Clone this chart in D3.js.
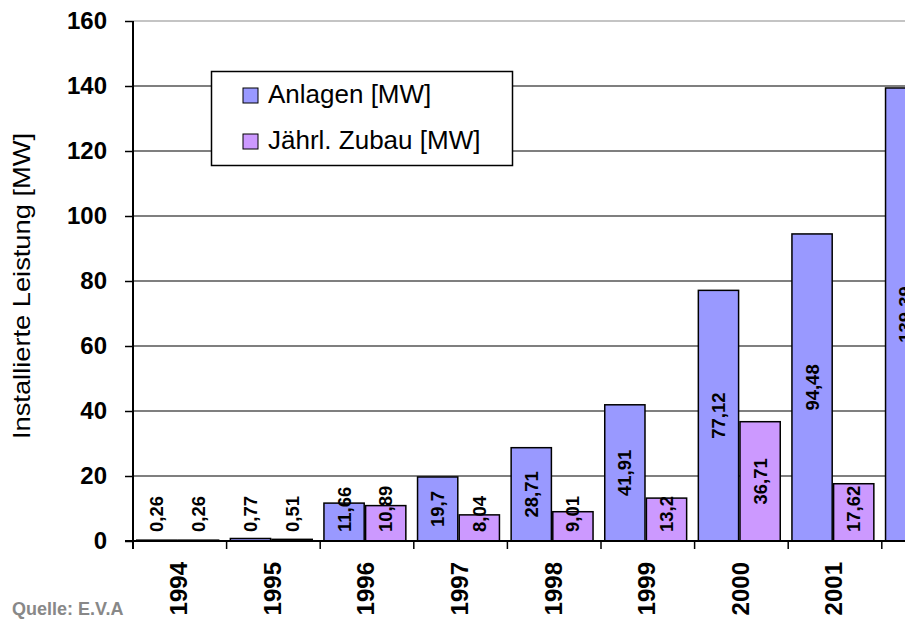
<!DOCTYPE html>
<html>
<head>
<meta charset="utf-8">
<script src="https://cdn.jsdelivr.net/npm/d3@7"></script>
<style>
  html, body { margin: 0; padding: 0; background: #fff; }
  svg { display: block; font-family: "Liberation Sans", Arial, sans-serif; }
</style>
</head>
<body>
<svg id="chart" width="905" height="625"></svg>
<script>
// ---- data ----
const years = ["1994", "1995", "1996", "1997", "1998", "1999", "2000", "2001", "2002"];
const anlagen = [0.26, 0.77, 11.66, 19.7, 28.71, 41.91, 77.12, 94.48, 139.39];
const zubau = [0.26, 0.51, 10.89, 8.04, 9.01, 13.2, 36.71, 17.62, null];
const yTicks = [0, 20, 40, 60, 80, 100, 120, 140, 160];
const seriesNames = ["Anlagen [MW]", "Jährl. Zubau [MW]"];
const seriesColors = ["#9999FF", "#CC99FF"];

// ---- layout ----
const svg = d3.select("#chart");
const x0 = 133, yBottom = 541, yTop = 21;
const bandW = 93.6;
const x = d3.scaleBand().domain(years).range([x0, x0 + bandW * years.length]).padding(0);
const y = d3.scaleLinear().domain([0, 160]).range([yBottom, yTop]);
const font = '"Liberation Sans", Arial, sans-serif';

// gridlines
svg.append("g").selectAll("line").data(yTicks.filter(d => d > 0)).join("line")
  .attr("x1", x0).attr("x2", 905)
  .attr("y1", d => y(d)).attr("y2", d => y(d))
  .attr("stroke", d => d === 160 ? "#8a8a8a" : "#000")
  .attr("stroke-width", 1.2);

// y axis
const yAxis = d3.axisLeft(y).tickValues(yTicks).tickSize(8).tickPadding(18).tickFormat(d3.format("d"));
const gy = svg.append("g").attr("transform", `translate(${x0},0)`).call(yAxis);
gy.select(".domain").remove();
gy.selectAll(".tick line").attr("stroke", "#000").attr("stroke-width", 1.5);
gy.selectAll(".tick text").attr("font-family", font).attr("font-size", 24).attr("font-weight", "bold").attr("fill", "#000");

// bars
const bw = x.bandwidth();
const barW = bw * 0.43;
const offsets = [bw * 0.04, bw * 0.485];
const series = [anlagen, zubau];
const labelLayer = [];
series.forEach((vals, si) => {
  const data = years.map((yr, i) => ({ yr, v: vals[i] })).filter(d => d.v != null);
  svg.append("g").selectAll("rect").data(data).join("rect")
    .attr("x", d => x(d.yr) + offsets[si])
    .attr("y", d => y(d.v))
    .attr("width", barW)
    .attr("height", d => yBottom - y(d.v))
    .attr("fill", seriesColors[si])
    .attr("stroke", "#000")
    .attr("stroke-width", 1.5);
  labelLayer.push({ si, data });
});

// axes lines
svg.append("line").attr("x1", x0).attr("x2", x0).attr("y1", yTop).attr("y2", yBottom + 8)
  .attr("stroke", "#000").attr("stroke-width", 2);
svg.append("line").attr("x1", x0 - 8).attr("x2", 905).attr("y1", yBottom).attr("y2", yBottom)
  .attr("stroke", "#000").attr("stroke-width", 2);

// x ticks at band boundaries
svg.append("g").selectAll("line").data(years).join("line")
  .attr("x1", d => x(d)).attr("x2", d => x(d))
  .attr("y1", yBottom).attr("y2", yBottom + 8)
  .attr("stroke", "#000").attr("stroke-width", 1.5);

// x labels (only those whose band centre lies inside the visible picture)
svg.append("g").selectAll("text").data(years.filter(d => x(d) + bw / 2 < 905)).join("text")
  .attr("transform", d => `translate(${x(d) + bw / 2 - 1},562) rotate(-90)`)
  .attr("text-anchor", "end").attr("dy", "0.35em")
  .attr("font-family", font).attr("font-size", 24).attr("font-weight", "bold").attr("fill", "#000")
  .text(d => d);

// bar value labels
labelLayer.forEach(({ si, data }) => {
  const g = svg.append("g");
  data.forEach(d => {
    const cx = x(d.yr) + offsets[si] + barW / 2;
    const t = g.append("text")
      .attr("text-anchor", "middle").attr("dy", "0.35em")
      .attr("font-family", font).attr("font-size", 18.5).attr("font-weight", "bold").attr("fill", "#000")
      .text(String(d.v).replace(".", ","));
    const len = t.node().getComputedTextLength();
    const barCenter = (y(d.v) + yBottom) / 2;
    const cy = Math.min(barCenter, 532 - len / 2);
    t.attr("transform", `translate(${cx},${cy}) rotate(-90)`);
  });
});

// y title
svg.append("text")
  .attr("transform", "translate(30,286) rotate(-90)")
  .attr("text-anchor", "middle")
  .attr("font-family", font).attr("font-size", 24).attr("fill", "#000")
  .attr("textLength", 306).attr("lengthAdjust", "spacingAndGlyphs")
  .text("Installierte Leistung [MW]");

// legend
const lg = svg.append("g");
lg.append("rect").attr("x", 211.5).attr("y", 71.5).attr("width", 301).attr("height", 94)
  .attr("fill", "#fff").attr("stroke", "#000").attr("stroke-width", 1.5);
seriesNames.forEach((name, i) => {
  lg.append("rect").attr("x", 243).attr("y", 88 + i * 46).attr("width", 15).attr("height", 15)
    .attr("fill", seriesColors[i]).attr("stroke", "#000").attr("stroke-width", 1);
  lg.append("text").attr("x", 268).attr("y", 103 + i * 46)
    .attr("font-family", font).attr("font-size", 26).attr("fill", "#000")
    .text(name);
});

// source
svg.append("text").attr("x", 12).attr("y", 615)
  .attr("font-family", font).attr("font-size", 18).attr("font-weight", "bold").attr("fill", "#888")
  .text("Quelle: E.V.A");
</script>
</body>
</html>
